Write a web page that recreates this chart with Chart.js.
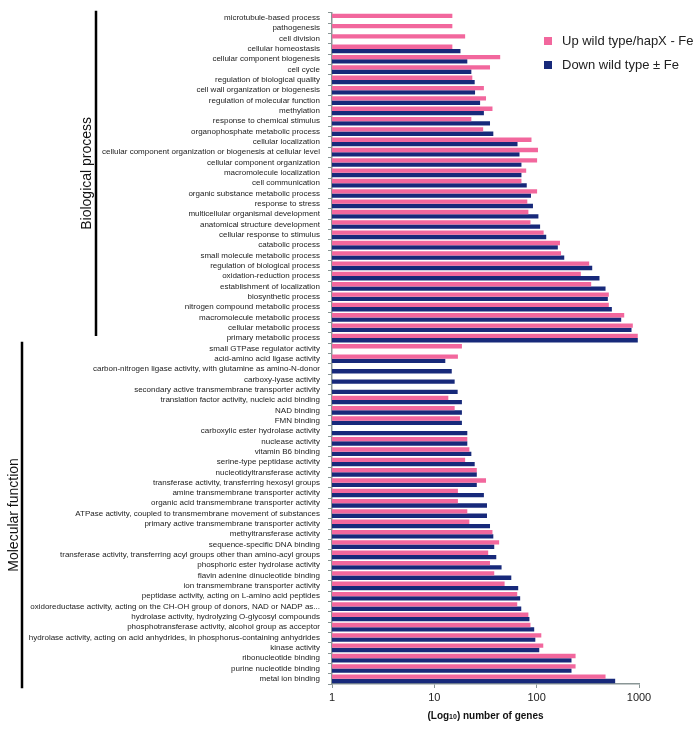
<!DOCTYPE html>
<html>
<head>
<meta charset="utf-8">
<script src="https://cdn.jsdelivr.net/npm/chart.js@4/dist/chart.umd.min.js"></script>
<style>
  html, body { margin: 0; padding: 0; background: #fff; }
  #wrap { position: relative; width: 700px; height: 731px; }
</style>
</head>
<body>
<div id="wrap"><canvas id="goChart" width="700" height="731"></canvas></div>
<script>
'use strict'

const categories = [
  'microtubule-based process',
  'pathogenesis',
  'cell division',
  'cellular homeostasis',
  'cellular component biogenesis',
  'cell cycle',
  'regulation of biological quality',
  'cell wall organization or biogenesis',
  'regulation of molecular function',
  'methylation',
  'response to chemical stimulus',
  'organophosphate metabolic process',
  'cellular localization',
  'cellular component organization or biogenesis at cellular level',
  'cellular component organization',
  'macromolecule localization',
  'cell communication',
  'organic substance metabolic process',
  'response to stress',
  'multicellular organismal development',
  'anatomical structure development',
  'cellular response to stimulus',
  'catabolic process',
  'small molecule metabolic process',
  'regulation of biological process',
  'oxidation-reduction process',
  'establishment of localization',
  'biosynthetic process',
  'nitrogen compound metabolic process',
  'macromolecule metabolic process',
  'cellular metabolic process',
  'primary metabolic process',
  'small GTPase regulator activity',
  'acid-amino acid ligase activity',
  'carbon-nitrogen ligase activity, with glutamine as amino-N-donor',
  'carboxy-lyase activity',
  'secondary active transmembrane transporter activity',
  'translation factor activity, nucleic acid binding',
  'NAD binding',
  'FMN binding',
  'carboxylic ester hydrolase activity',
  'nuclease activity',
  'vitamin B6 binding',
  'serine-type peptidase activity',
  'nucleotidyltransferase activity',
  'transferase activity, transferring hexosyl groups',
  'amine transmembrane transporter activity',
  'organic acid transmembrane transporter activity',
  'ATPase activity, coupled to transmembrane movement of substances',
  'primary active transmembrane transporter activity',
  'methyltransferase activity',
  'sequence-specific DNA binding',
  'transferase activity, transferring acyl groups other than amino-acyl groups',
  'phosphoric ester hydrolase activity',
  'flavin adenine dinucleotide binding',
  'ion transmembrane transporter activity',
  'peptidase activity, acting on L-amino acid peptides',
  'oxidoreductase activity, acting on the CH-OH group of donors, NAD or NADP as...',
  'hydrolase activity, hydrolyzing O-glycosyl compounds',
  'phosphotransferase activity, alcohol group as acceptor',
  'hydrolase activity, acting on acid anhydrides, in phosphorus-containing anhydrides',
  'kinase activity',
  'ribonucleotide binding',
  'purine nucleotide binding',
  'metal ion binding'
]

// Up wild type/hapX - Fe
const upValues = [
  15, 15, 20, 15, 44, 35, 23.5, 30.5, 32, 37,
  23, 30, 89, 103, 101, 79, 71, 101, 81, 83,
  87, 117, 169, 173, 326, 270, 341, 507, 507, 717,
  870, 973,
  18.6, 17, null, null, null, 13.7, 15.8, 17.8,
  null, 21, 22, 20, 26, 32, 17, 17, 21, 22,
  37, 43, 33.6, 35, 38.5, 48.6, 64.6, 64.6, 83, 87,
  111, 116, 240, 240, 471
]

// Down wild type ± Fe
const downValues = [
  null, null, null, 18, 21, 23, 24.8, 25, 28, 30.5,
  35, 37.7, 65, 68, 71, 71, 80, 88, 92, 104,
  108, 124, 161, 186, 349, 411, 471, 496, 543, 670,
  845, 973,
  null, 12.8, 14.8, 15.8, 16.9, 18.6, 18.6, 18.6,
  21, 21, 23, 24.8, 26, 26, 30.5, 32.7, 32.7, 35,
  37.7, 38.5, 40.3, 45.4, 56.5, 66, 69, 70.7, 85, 94.6,
  97, 106, 219, 219, 585
]

const xTicks = [1, 10, 100, 1000]

const seriesNames = ['Up wild type/hapX - Fe', 'Down wild type \u00b1 Fe']
const seriesColors = ['#F2679D', '#17297A']

// bracket ends given in category steps relative to first/last row
const groups = [
  { name: 'Biological process', first: 0, last: 31, lineX: 96, textX: 87, pre: 0.7, post: -0.2 },
  { name: 'Molecular function', first: 32, last: 64, lineX: 22, textX: 14, pre: 0.65, post: 0.9 }
]

const FONT = "'Liberation Sans', Arial, sans-serif"

const extras = {
  id: 'extras',
  afterDraw(chart) {
    const ctx = chart.ctx
    const y = chart.scales.y
    const area = chart.chartArea
    const step = (y.getPixelForValue(1) - y.getPixelForValue(0))

    ctx.save()
    // group brackets + labels
    groups.forEach((g) => {
      const top = y.getPixelForValue(g.first) - step * g.pre
      const bot = y.getPixelForValue(g.last) + step * g.post
      ctx.strokeStyle = '#000'
      ctx.lineWidth = 2.5
      ctx.beginPath()
      ctx.moveTo(g.lineX, top)
      ctx.lineTo(g.lineX, bot)
      ctx.stroke()

      ctx.save()
      ctx.translate(g.textX, (top + bot) / 2)
      ctx.rotate(-Math.PI / 2)
      ctx.fillStyle = '#111'
      ctx.font = '14px ' + FONT
      ctx.textAlign = 'center'
      ctx.textBaseline = 'middle'
      ctx.fillText(g.name, 0, 0)
      ctx.restore()
    })

    // legend
    ctx.font = '13px ' + FONT
    ctx.textBaseline = 'middle'
    ctx.textAlign = 'left'
    seriesNames.forEach((name, i) => {
      const ly = 41 + i * 24
      ctx.fillStyle = seriesColors[i]
      ctx.fillRect(544, ly - 4, 8, 8)
      ctx.fillStyle = '#222'
      ctx.fillText(name, 562, ly)
    })

    // x title with subscript
    const cx = (area.left + area.right) / 2
    const ty = 716
    const parts = [
      { t: '(Log', f: 'bold 10px ' + FONT, dy: 0 },
      { t: '10', f: 'bold 7px ' + FONT, dy: 1.5 },
      { t: ') number of genes', f: 'bold 10px ' + FONT, dy: 0 }
    ]
    let total = 0
    parts.forEach((p) => {
      ctx.font = p.f
      p.w = ctx.measureText(p.t).width
      total += p.w
    })
    let x = cx - total / 2
    ctx.fillStyle = '#111'
    parts.forEach((p) => {
      ctx.font = p.f
      ctx.fillText(p.t, x, ty + p.dy)
      x += p.w
    })
    ctx.restore()
  }
}

new Chart(document.getElementById('goChart'), {
  type: 'bar',
  data: {
    labels: categories,
    datasets: [
      { label: seriesNames[0], data: upValues, backgroundColor: seriesColors[0] },
      { label: seriesNames[1], data: downValues, backgroundColor: seriesColors[1] }
    ]
  },
  options: {
    indexAxis: 'y',
    responsive: false,
    animation: false,
    layout: { padding: { left: 0, right: 61, top: 6, bottom: 27 } },
    categoryPercentage: 0.84,
    barPercentage: 1,
    scales: {
      x: {
        type: 'logarithmic',
        min: 1,
        max: 1000,
        afterBuildTicks(scale) {
          scale.ticks = xTicks.map((v) => ({ value: v, major: true }))
        },
        afterFit(scale) {
          scale.height = 20
        },
        grid: {
          drawOnChartArea: false,
          tickLength: 4,
          color: '#8a9696'
        },
        border: { color: '#8a9696', width: 1.5 },
        ticks: {
          color: '#222',
          font: { family: FONT, size: 11 },
          padding: 3,
          callback: (v) => String(v)
        }
      },
      y: {
        offset: true,
        afterFit(scale) {
          scale.width = 332
        },
        grid: {
          offset: true,
          drawOnChartArea: false,
          tickLength: 4,
          color: '#8a9696'
        },
        border: { color: '#8a9696', width: 1.5 },
        ticks: {
          autoSkip: false,
          color: '#222',
          padding: 8,
          font: { family: FONT, size: 8 }
        }
      }
    },
    plugins: {
      legend: { display: false },
      tooltip: { enabled: false }
    }
  },
  plugins: [extras]
})
</script>
</body>
</html>
